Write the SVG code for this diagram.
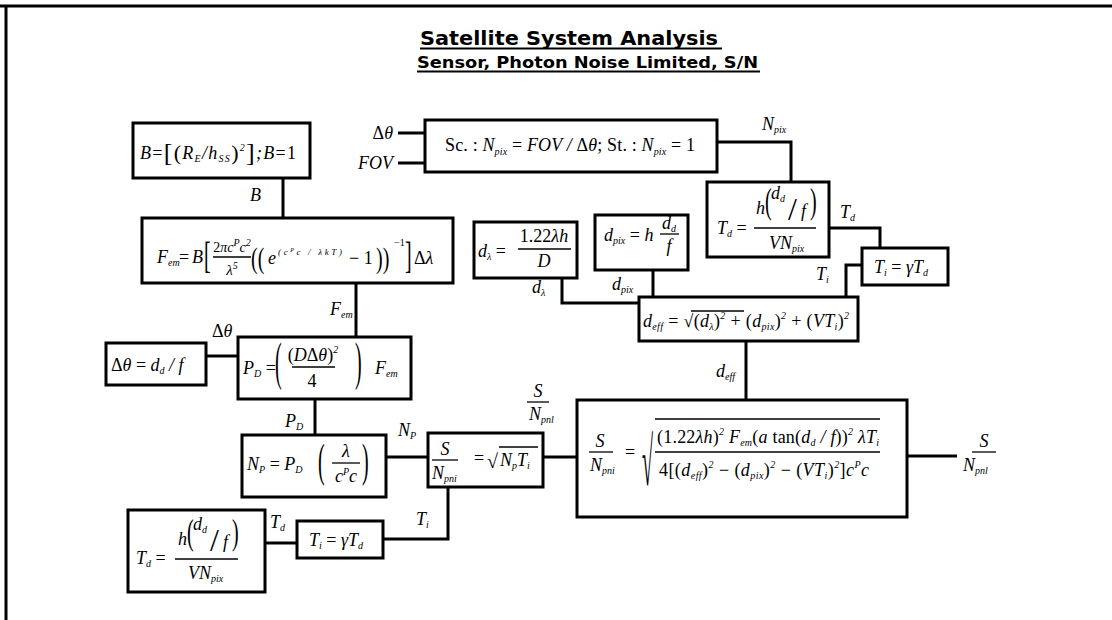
<svg xmlns="http://www.w3.org/2000/svg" width="1112" height="620" viewBox="0 0 1112 620">
<style>
.bx{fill:#fff;stroke:#000;stroke-width:3}
.ln{fill:none;stroke:#000;stroke-width:3}
.br{stroke:#000;stroke-width:1.3}
.f{font-family:"Liberation Serif","Times New Roman",serif;font-size:18px;font-style:italic;fill:#000}
.u{font-style:normal}
.sb{font-size:10px}
.d{font-family:"Liberation Serif","Times New Roman",serif;font-size:20px;fill:#000}
.t{font-family:"DejaVu Sans","Liberation Sans",sans-serif;font-weight:bold;fill:#000}
</style>
<rect width="1112" height="620" fill="#fff"/>
<g id="frame">
<line class="ln" x1="0" y1="6" x2="1112" y2="6"/>
<line class="ln" x1="6" y1="6" x2="6" y2="620"/>
</g>
<g id="title">
<text class="t" x="420" y="45" style="font-size:20px" textLength="298" lengthAdjust="spacingAndGlyphs">Satellite System Analysis</text>
<line x1="420" y1="48.5" x2="722" y2="48.5" stroke="#000" stroke-width="2"/>
<text class="t" x="417" y="68" style="font-size:16px" textLength="341" lengthAdjust="spacingAndGlyphs">Sensor, Photon Noise Limited, S/N</text>
<line x1="417" y1="71.5" x2="760" y2="71.5" stroke="#000" stroke-width="2"/>
</g>
<g id="connectors">
<path class="ln" d="M283,178V218"/>
<path class="ln" d="M356,283V337"/>
<path class="ln" d="M206,356H238"/>
<path class="ln" d="M315,399V435"/>
<path class="ln" d="M386,457H428"/>
<path class="ln" d="M543,457H577"/>
<path class="ln" d="M907,456H957"/>
<path class="ln" d="M265,543H297"/>
<path class="ln" d="M383,539H448V487"/>
<path class="ln" d="M398,133H425"/>
<path class="ln" d="M398,163H425"/>
<path class="ln" d="M717,142H791V182"/>
<path class="ln" d="M829,228H880V248"/>
<path class="ln" d="M862,265H846V297"/>
<path class="ln" d="M562,278V303H639"/>
<path class="ln" d="M653,270V297"/>
<path class="ln" d="M746,341V400"/>
<text class="f" x="250" y="201">B</text>
<text class="f" x="330" y="315">F<tspan class="sb" dy="3">em</tspan></text>
<text class="f" x="212" y="337"><tspan class="u">Δ</tspan>θ</text>
<text class="f" x="285" y="427">P<tspan class="sb" dy="3">D</tspan></text>
<text class="f" x="398" y="436">N<tspan class="sb" dy="3">P</tspan></text>
<text class="f" x="416" y="525">T<tspan class="sb" dy="3">i</tspan></text>
<text class="f" x="270" y="528">T<tspan class="sb" dy="3">d</tspan></text>
<text class="f" x="762" y="130">N<tspan class="sb" dy="3">pix</tspan></text>
<text class="f" x="840" y="218">T<tspan class="sb" dy="3">d</tspan></text>
<text class="f" x="816" y="280">T<tspan class="sb" dy="3">i</tspan></text>
<text class="f" x="532" y="293">d<tspan class="sb" dy="3">λ</tspan></text>
<text class="f" x="612" y="290">d<tspan class="sb" dy="3">pix</tspan></text>
<text class="f" x="716" y="377">d<tspan class="sb" dy="3">eff</tspan></text>
<text class="f" x="393" y="139" text-anchor="end"><tspan class="u">Δ</tspan>θ</text>
<text class="f" x="393" y="169" text-anchor="end">FOV</text>
<text class="f" x="538" y="397" text-anchor="middle">S</text>
<line class="br" x1="527" y1="402" x2="549" y2="402"/>
<text class="f" x="529" y="420">N<tspan class="sb" dy="3">pnl</tspan></text>
<text class="f" x="984" y="447" text-anchor="middle">S</text>
<line class="br" x1="972" y1="452" x2="996" y2="452"/>
<text class="f" x="963" y="471">N<tspan class="sb" dy="3">pnl</tspan></text>
</g>
<g id="node-b">
<rect class="bx" x="133" y="123" width="177" height="55"/>
<text class="f" x="140" y="159" textLength="156" lengthAdjust="spacing">B<tspan class="u">=</tspan><tspan class="u" font-size="26" dy="2">[</tspan><tspan class="u" font-size="22" dy="-1">(</tspan><tspan dy="-1">R</tspan><tspan class="sb" dy="3">E</tspan><tspan dy="-3">/h</tspan><tspan class="sb" dy="3">SS</tspan><tspan class="u" font-size="22" dy="-2">)</tspan><tspan class="sb" dy="-9">2</tspan><tspan class="u" font-size="26" dy="10">]</tspan><tspan dy="-2">;B</tspan><tspan class="u">=1</tspan></text>
</g>
<g id="node-npix">
<rect class="bx" x="425" y="120" width="292" height="52"/>
<text class="f" x="445" y="151" textLength="250" lengthAdjust="spacing"><tspan class="u">Sc. : </tspan>N<tspan class="sb" dy="4">pix</tspan><tspan dy="-4" class="u"> = </tspan>FOV / <tspan class="u">Δ</tspan>θ<tspan class="u">; St. : </tspan>N<tspan class="sb" dy="4">pix</tspan><tspan dy="-4" class="u"> = 1</tspan></text>
</g>
<g id="node-td-top">
<rect class="bx" x="707" y="182" width="122" height="75"/>
<text class="f" x="717" y="234">T<tspan class="sb" dy="3">d</tspan><tspan class="u" dy="-3"> =</tspan></text>
<line class="br" x1="754" y1="228" x2="816" y2="228"/>
<text class="f" x="756" y="214">h</text>
<text class="d" transform="translate(765,213) scale(1,1.8)">(</text>
<text class="f" x="771" y="199">d<tspan class="sb" dy="3">d</tspan></text>
<text class="d" transform="translate(788,220)" style="font-size:32px">/</text>
<text class="f" x="801" y="217">f</text>
<text class="d" transform="translate(810,213) scale(1,1.8)">)</text>
<text class="f" x="769" y="249">VN<tspan class="sb" dy="3">pix</tspan></text>
</g>
<g id="node-ti-top">
<rect class="bx" x="862" y="248" width="86" height="37"/>
<text class="f" x="874" y="273">T<tspan class="sb" dy="3">i</tspan><tspan class="u" dy="-3"> = </tspan>γT<tspan class="sb" dy="3">d</tspan></text>
</g>
<g id="node-dlambda">
<rect class="bx" x="474" y="222" width="103" height="56"/>
<text class="f" x="478" y="257">d<tspan class="sb" dy="3">λ</tspan><tspan class="u" dy="-3"> =</tspan></text>
<text class="f" x="544" y="242" text-anchor="middle"><tspan class="u">1.22</tspan>λh</text>
<line class="br" x1="518" y1="249" x2="571" y2="249"/>
<text class="f" x="544" y="267" text-anchor="middle">D</text>
</g>
<g id="node-dpix">
<rect class="bx" x="595" y="215" width="93" height="55"/>
<text class="f" x="604" y="241">d<tspan class="sb" dy="3">pix</tspan><tspan class="u" dy="-3"> = </tspan>h</text>
<text class="f" x="669" y="229" text-anchor="middle">d<tspan class="sb" dy="3">d</tspan></text>
<line class="br" x1="660" y1="234" x2="679" y2="234"/>
<text class="f" x="669" y="252" text-anchor="middle">f</text>
</g>
<g id="node-deff">
<rect class="bx" x="639" y="297" width="219" height="44"/>
<text class="f" x="643" y="327" textLength="206" lengthAdjust="spacing">d<tspan class="sb" dy="3">eff</tspan><tspan class="u" dy="-3"> = √(</tspan>d<tspan class="sb" dy="3">λ</tspan><tspan class="u" dy="-3">)</tspan><tspan class="sb" dy="-8">2</tspan><tspan class="u" dy="8"> + (</tspan>d<tspan class="sb" dy="3">pix</tspan><tspan class="u" dy="-3">)</tspan><tspan class="sb" dy="-8">2</tspan><tspan class="u" dy="8"> + (</tspan>VT<tspan class="sb" dy="3">i</tspan><tspan class="u" dy="-3">)</tspan><tspan class="sb" dy="-8">2</tspan></text>
<line class="br" x1="691" y1="311" x2="744" y2="311"/>
</g>
<g id="node-fem">
<rect class="bx" x="142" y="218" width="311" height="65"/>
<text class="f" x="157" y="263">F<tspan class="sb" dy="3">em</tspan></text>
<text class="f" x="179" y="263"><tspan class="u">=</tspan></text>
<text class="f" x="192" y="263">B</text>
<text class="d" transform="translate(204,268) scale(1,1.9)">[</text>
<text class="f" x="232" y="252" text-anchor="middle" style="font-size:14px"><tspan class="u">2</tspan>πc<tspan class="sb" dy="-6">P</tspan><tspan dy="6">c</tspan><tspan class="sb" dy="-6">2</tspan></text>
<line class="br" x1="213" y1="257" x2="251" y2="257"/>
<text class="f" x="232" y="275" text-anchor="middle" style="font-size:15px">λ<tspan class="sb" dy="-6">5</tspan></text>
<text class="d" transform="translate(251,268) scale(1,1.5)">((</text>
<text class="f" x="268" y="264">e</text>
<text class="f" x="278" y="255" style="font-size:9px" textLength="64" lengthAdjust="spacing">(c<tspan style="font-size:6px" dy="-3">P</tspan><tspan dy="3">c / λkT)</tspan></text>
<text class="f" x="349" y="264"><tspan class="u">− 1</tspan></text>
<text class="d" transform="translate(376,268) scale(1,1.5)">))</text>
<text class="f" x="394" y="246" style="font-size:10px"><tspan class="u">−1</tspan></text>
<text class="d" transform="translate(405,268) scale(1,1.9)">]</text>
<text class="f" x="414" y="264"><tspan class="u">Δ</tspan>λ</text>
</g>
<g id="node-dtheta">
<rect class="bx" x="106" y="343" width="100" height="42"/>
<text class="f" x="111" y="371"><tspan class="u">Δ</tspan>θ <tspan class="u">=</tspan> d<tspan class="sb" dy="3">d</tspan><tspan dy="-3"> / f</tspan></text>
</g>
<g id="node-pd">
<rect class="bx" x="238" y="337" width="173" height="62"/>
<text class="f" x="243" y="374">P<tspan class="sb" dy="3">D</tspan><tspan class="u" dy="-3"> =</tspan></text>
<text class="d" transform="translate(275,379) scale(1,2.6)">(</text>
<text class="f" x="313" y="361" text-anchor="middle"><tspan class="u">(</tspan>D<tspan class="u">Δ</tspan>θ<tspan class="u">)</tspan><tspan class="sb" dy="-8">2</tspan></text>
<line class="br" x1="292" y1="367" x2="335" y2="367"/>
<text class="f" x="312" y="387" text-anchor="middle"><tspan class="u">4</tspan></text>
<text class="d" transform="translate(355,379) scale(1,2.6)">)</text>
<text class="f" x="375" y="374">F<tspan class="sb" dy="3">em</tspan></text>
</g>
<g id="node-np">
<rect class="bx" x="242" y="435" width="144" height="62"/>
<text class="f" x="247" y="470">N<tspan class="sb" dy="3">P</tspan><tspan class="u" dy="-3"> = </tspan>P<tspan class="sb" dy="3">D</tspan></text>
<text class="d" transform="translate(318,476) scale(1,2.3)">(</text>
<text class="f" x="346" y="457" text-anchor="middle">λ</text>
<line class="br" x1="332" y1="463" x2="360" y2="463"/>
<text class="f" x="346" y="482" text-anchor="middle">c<tspan class="sb" dy="-7">P</tspan><tspan dy="7">c</tspan></text>
<text class="d" transform="translate(362,476) scale(1,2.3)">)</text>
</g>
<g id="node-sn-small">
<rect class="bx" x="428" y="433" width="115" height="54"/>
<text class="f" x="445" y="455" text-anchor="middle">S</text>
<line class="br" x1="432" y1="460" x2="458" y2="460"/>
<text class="f" x="432" y="479">N<tspan class="sb" dy="3">pni</tspan></text>
<text class="f" x="474" y="464"><tspan class="u">=</tspan></text>
<text class="d" x="487" y="468">√</text>
<line class="br" x1="499" y1="447" x2="538" y2="447"/>
<text class="f" x="500" y="466">N<tspan class="sb" dy="3">p</tspan><tspan dy="-3">T</tspan><tspan class="sb" dy="3">i</tspan></text>
</g>
<g id="node-sn-big">
<rect class="bx" x="577" y="400" width="330" height="117"/>
<text class="f" x="600" y="447" text-anchor="middle">S</text>
<line class="br" x1="589" y1="452" x2="613" y2="452"/>
<text class="f" x="590" y="471">N<tspan class="sb" dy="3">pni</tspan></text>
<text class="f" x="625" y="458"><tspan class="u">=</tspan></text>
<text class="d" transform="translate(642,485) scale(1,3.4)">√</text>
<line class="br" x1="655" y1="419" x2="880" y2="419"/>
<text class="f" x="657" y="443" textLength="222" lengthAdjust="spacing"><tspan class="u">(1.22</tspan>λh<tspan class="u">)</tspan><tspan class="sb" dy="-8">2</tspan><tspan dy="8"> F</tspan><tspan class="sb" dy="3">em</tspan><tspan class="u" dy="-3">(</tspan>a <tspan class="u">tan(</tspan>d<tspan class="sb" dy="3">d</tspan><tspan dy="-3"> / f</tspan><tspan class="u">))</tspan><tspan class="sb" dy="-8">2</tspan><tspan dy="8"> λT</tspan><tspan class="sb" dy="3">i</tspan></text>
<line class="br" x1="655" y1="452" x2="880" y2="452"/>
<text class="f" x="659" y="476" textLength="210" lengthAdjust="spacing"><tspan class="u">4[(</tspan>d<tspan class="sb" dy="3">eff</tspan><tspan class="u" dy="-3">)</tspan><tspan class="sb" dy="-8">2</tspan><tspan class="u" dy="8"> − (</tspan>d<tspan class="sb" dy="3">pix</tspan><tspan class="u" dy="-3">)</tspan><tspan class="sb" dy="-8">2</tspan><tspan class="u" dy="8"> − (</tspan>VT<tspan class="sb" dy="3">i</tspan><tspan class="u" dy="-3">)</tspan><tspan class="sb" dy="-8">2</tspan><tspan class="u" dy="8">]</tspan>c<tspan class="sb" dy="-8">P</tspan><tspan dy="8">c</tspan></text>
</g>
<g id="node-td-bottom">
<rect class="bx" x="128" y="510" width="137" height="82"/>
<text class="f" x="136" y="564">T<tspan class="sb" dy="3">d</tspan><tspan class="u" dy="-3"> =</tspan></text>
<line class="br" x1="175" y1="559" x2="238" y2="559"/>
<text class="f" x="178" y="545">h</text>
<text class="d" transform="translate(187,544) scale(1,1.8)">(</text>
<text class="f" x="193" y="530">d<tspan class="sb" dy="3">d</tspan></text>
<text class="d" transform="translate(210,551)" style="font-size:32px">/</text>
<text class="f" x="223" y="548">f</text>
<text class="d" transform="translate(232,544) scale(1,1.8)">)</text>
<text class="f" x="188" y="579">VN<tspan class="sb" dy="3">pix</tspan></text>
</g>
<g id="node-ti-bottom">
<rect class="bx" x="297" y="521" width="86" height="37"/>
<text class="f" x="309" y="546">T<tspan class="sb" dy="3">i</tspan><tspan class="u" dy="-3"> = </tspan>γT<tspan class="sb" dy="3">d</tspan></text>
</g>
</svg>
